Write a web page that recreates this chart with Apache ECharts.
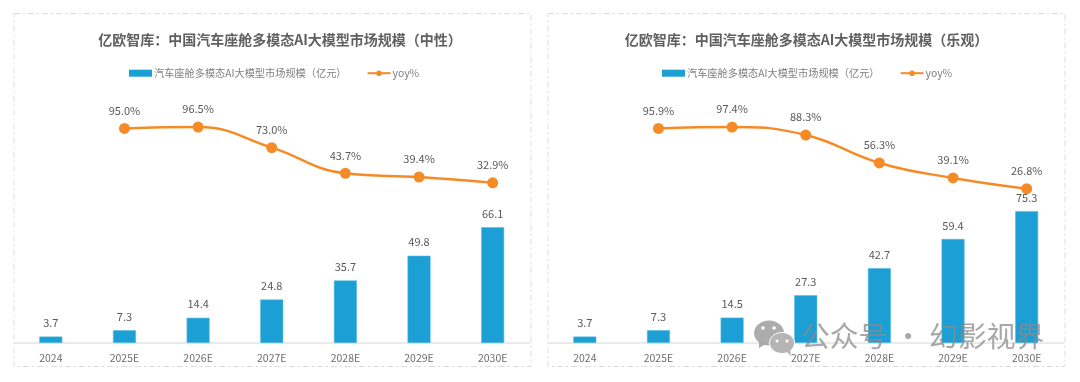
<!DOCTYPE html>
<html>
<head>
<meta charset="utf-8">
<style>
  html, body { margin: 0; padding: 0; background: #fff; }
  #left, #right { position: absolute; top: 0; width: 540px; height: 382px; }
  #left { left: 0; }
  #right { left: 540px; }
</style>
<script src="https://cdn.jsdelivr.net/npm/echarts@6/dist/echarts.min.js"></script>
</head>
<body>
<div id="left"></div>
<div id="right"></div>
<script>
const categories = ['2024', '2025E', '2026E', '2027E', '2028E', '2029E', '2030E']
const barName = '汽车座舱多模态AI大模型市场规模（亿元）'
const lineName = 'yoy%'

const neutralTitle = '亿欧智库：中国汽车座舱多模态AI大模型市场规模（中性）'
const neutralScale = [3.7, 7.3, 14.4, 24.8, 35.7, 49.8, 66.1]
const neutralYoy = [null, 95.0, 96.5, 73.0, 43.7, 39.4, 32.9]

const optimisticTitle = '亿欧智库：中国汽车座舱多模态AI大模型市场规模（乐观）'
const optimisticScale = [3.7, 7.3, 14.5, 27.3, 42.7, 59.4, 75.3]
const optimisticYoy = [null, 95.9, 97.4, 88.3, 56.3, 39.1, 26.8]

const fontFamily = '"Noto Sans CJK SC", "Noto Sans", sans-serif'

function buildOption(title, scale, yoy, left, titleX, legendX, lineMax, extraGraphic) {
  return {
    animation: false,
    textStyle: { fontFamily },
    title: {
      text: title,
      left: titleX,
      top: 28,
      textAlign: 'center',
      textStyle: { fontSize: 14, fontWeight: 'bold', color: '#606060', fontFamily }
    },
    legend: {
      left: legendX,
      top: 63,
      itemWidth: 23,
      itemHeight: 7,
      itemGap: 20,
      textStyle: { fontSize: 10.2, color: '#7f7f7f', fontFamily, padding: [0, 0, 0, -3] },
      data: [
        { name: barName, icon: 'rect', itemStyle: { borderWidth: 0 } },
        { name: lineName, textStyle: { fontSize: 10.4 } }
      ]
    },
    grid: { left, width: 515.5, top: 103, height: 240 },
    xAxis: {
      type: 'category',
      data: categories,
      axisTick: { show: false },
      axisLine: { lineStyle: { color: '#e3e3e3', width: 1.5 } },
      axisLabel: { color: '#6e6e6e', fontSize: 10.5, margin: 10, fontFamily }
    },
    yAxis: [
      { type: 'value', min: 0, max: 137, show: false },
      { type: 'value', min: -150, max: lineMax, show: false }
    ],
    series: [{
      name: barName,
      type: 'bar',
      barWidth: 23,
      data: scale,
      itemStyle: { color: '#1c9fd4', borderColor: '#5bbbe2', borderWidth: 0.6 },
      label: { show: true, position: 'top', distance: 8, color: '#595959', fontSize: 11, fontFamily }
    }, {
      name: lineName,
      type: 'line',
      yAxisIndex: 1,
      smooth: 0.45,
      data: yoy,
      symbol: 'circle',
      symbolSize: 11,
      lineStyle: { color: '#f68b26', width: 2.5 },
      itemStyle: { color: '#f68b26' },
      label: {
        show: true,
        position: 'top',
        distance: 7,
        color: '#595959',
        fontSize: 11,
        fontFamily,
        formatter: p => p.value.toFixed(1) + '%'
      }
    }],
    graphic: [{
      type: 'rect',
      silent: true,
      z: -1,
      shape: { x: left, y: 13.5, width: 517, height: 353 },
      style: { fill: '#fff', stroke: '#dcdcdc', lineWidth: 1, lineDash: [6, 3, 2, 3] }
    }].concat(extraGraphic || [])
  }
}

// 右下角公众号水印
const watermark = [
  { type: 'ellipse', z: 100, silent: true, shape: { cx: 229, cy: 333, rx: 15, ry: 12.5 }, style: { fill: '#a3a3a3', opacity: 0.9 } },
  { type: 'polygon', z: 100, silent: true, shape: { points: [[219, 341], [219, 348], [226, 344]] }, style: { fill: '#a3a3a3', opacity: 0.9 } },
  { type: 'circle', z: 101, silent: true, shape: { cx: 223, cy: 328, r: 1.8 }, style: { fill: '#fff' } },
  { type: 'circle', z: 101, silent: true, shape: { cx: 234, cy: 328, r: 1.8 }, style: { fill: '#fff' } },
  { type: 'ellipse', z: 102, silent: true, shape: { cx: 242, cy: 343, rx: 12.5, ry: 10.5 }, style: { fill: '#b5b5b5', stroke: '#fff', lineWidth: 1 } },
  { type: 'polygon', z: 102, silent: true, shape: { points: [[246, 351], [251, 356], [250, 348]] }, style: { fill: '#b5b5b5' } },
  { type: 'circle', z: 103, silent: true, shape: { cx: 237, cy: 341, r: 1.5 }, style: { fill: '#fff' } },
  { type: 'circle', z: 103, silent: true, shape: { cx: 247, cy: 341, r: 1.5 }, style: { fill: '#fff' } },
  {
    type: 'text',
    z: 100,
    silent: true,
    style: {
      x: 261,
      y: 336,
      text: '公众号 · 幻影视界',
      fill: '#8a8a8a',
      opacity: 0.75,
      fontSize: 28.8,
      fontFamily,
      verticalAlign: 'middle'
    }
  }
]

const leftChart = echarts.init(document.getElementById('left'))
leftChart.setOption(buildOption(neutralTitle, neutralScale, neutralYoy, 14, 275, 124, 124))

const rightChart = echarts.init(document.getElementById('right'))
rightChart.setOption(buildOption(optimisticTitle, optimisticScale, optimisticYoy, 8, 261.5, 117, 125, watermark))
</script>
</body>
</html>
